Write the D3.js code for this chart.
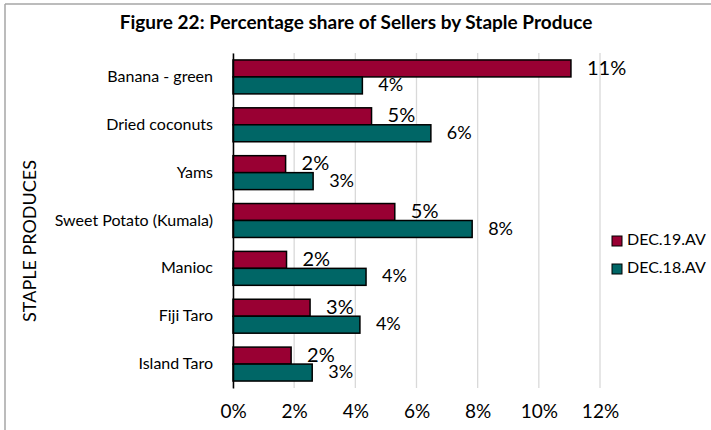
<!DOCTYPE html>
<html lang="en">
<head>
    <meta charset="UTF-8">
    <title>Figure 22</title>
    <script src="https://d3js.org/d3.v7.min.js"></script>
    <style>
        body {
            margin: 0;
            padding: 0;
            background: #fff;
        }
        text {
            font-family: Lato, "Open Sans", sans-serif;
            fill: #000;
        }
    </style>
</head>
<body>
    <div id="chart"></div>

    <script>
        const width = 711, height = 430;

        // 数据
        const categories = ["Banana - green", "Dried coconuts", "Yams", "Sweet Potato (Kumala)", "Manioc", "Fiji Taro", "Island Taro"];
        const seriesNames = ["DEC.19.AV", "DEC.18.AV"];
        const dec19 = [0.1105, 0.0453, 0.0172, 0.0529, 0.0175, 0.0252, 0.0190];
        const dec18 = [0.0423, 0.0647, 0.0262, 0.0782, 0.0435, 0.0415, 0.0259];
        const xTicks = [0, 0.02, 0.04, 0.06, 0.08, 0.10, 0.12];
        const colors = ["#990033", "#006666"];

        const rows = categories.map((c, i) => ({ cat: c, values: [dec19[i], dec18[i]] }));

        const svg = d3.select("#chart")
            .append("svg")
            .attr("width", width)
            .attr("height", height);

        svg.append("rect").attr("width", width).attr("height", height).attr("fill", "#fff");

        // 外框（上、左）
        svg.append("line").attr("x1", 5).attr("x2", width).attr("y1", 4).attr("y2", 4)
            .attr("stroke", "#a6a6a6").attr("stroke-width", 1.5);
        svg.append("line").attr("x1", 5).attr("x2", 5).attr("y1", 4).attr("y2", height)
            .attr("stroke", "#a6a6a6").attr("stroke-width", 1.5);

        const plot = { left: 233, right: 600, top: 53, bottom: 388 };

        const x = d3.scaleLinear().domain([0, 0.12]).range([plot.left, plot.right]);
        const y = d3.scaleBand().domain(categories).range([plot.top, plot.bottom]).padding(0);
        const yInner = d3.scaleBand().domain(seriesNames).range([0, y.bandwidth()])
            .paddingInner(0).paddingOuter(0.41);

        // 标题
        svg.append("text")
            .attr("x", 356).attr("y", 29)
            .attr("text-anchor", "middle")
            .style("font-size", "19px")
            .style("font-weight", "bold")
            .text("Figure 22: Percentage share of Sellers by Staple Produce");

        // 网格线
        svg.append("g")
            .selectAll("line")
            .data(xTicks)
            .join("line")
            .attr("x1", d => x(d)).attr("x2", d => x(d))
            .attr("y1", plot.top).attr("y2", plot.bottom)
            .attr("stroke", "#d9d9d9").attr("stroke-width", 1.3);

        // x轴
        const xAxis = svg.append("g")
            .attr("transform", `translate(0,${plot.bottom})`)
            .call(d3.axisBottom(x).tickValues(xTicks).tickFormat(d3.format(".0%")).tickSize(0).tickPadding(17));
        xAxis.select(".domain").remove();
        xAxis.selectAll("text")
            .style("font-family", "Lato, sans-serif")
            .style("font-size", "19px")
            .attr("fill", "#000");

        // 柱子
        const groups = svg.append("g")
            .selectAll("g")
            .data(rows)
            .join("g")
            .attr("transform", d => `translate(0,${y(d.cat)})`);

        groups.selectAll("rect")
            .data(d => d.values.map((v, i) => ({ name: seriesNames[i], value: v, i: i })))
            .join("rect")
            .attr("x", x(0))
            .attr("y", d => yInner(d.name))
            .attr("width", d => x(d.value) - x(0))
            .attr("height", yInner.bandwidth())
            .attr("fill", d => colors[d.i])
            .attr("stroke", "#000")
            .attr("stroke-width", 1.5);

        // 数据标签
        groups.selectAll("text.val")
            .data(d => d.values.map((v, i) => ({ name: seriesNames[i], value: v, i: i })))
            .join("text")
            .attr("class", "val")
            .attr("x", d => x(d.value) + 16)
            .attr("y", d => yInner(d.name) + yInner.bandwidth() / 2 + 1)
            .attr("dominant-baseline", "middle")
            .style("font-size", d => d.i === 0 ? "20px" : "18px")
            .text(d => d3.format(".0%")(d.value));

        // y轴
        const yAxis = svg.append("g")
            .attr("transform", `translate(${plot.left},0)`)
            .call(d3.axisLeft(y).tickSize(0).tickPadding(20));
        yAxis.select(".domain")
            .attr("stroke", "#000").attr("stroke-width", 1.5);
        yAxis.selectAll("text")
            .style("font-family", "Lato, sans-serif")
            .style("font-size", "16px")
            .attr("fill", "#000");

        // y轴标题
        svg.append("text")
            .attr("transform", "translate(36,241) rotate(-90)")
            .attr("text-anchor", "middle")
            .style("font-size", "18px")
            .text("STAPLE PRODUCES");

        // 图例
        const legend = svg.append("g")
            .selectAll("g")
            .data(seriesNames)
            .join("g")
            .attr("transform", (d, i) => `translate(612,${236 + i * 28})`);
        legend.append("rect")
            .attr("width", 10).attr("height", 10)
            .attr("fill", (d, i) => colors[i])
            .attr("stroke", "#000").attr("stroke-width", 1);
        legend.append("text")
            .attr("x", 15).attr("y", 5)
            .attr("dominant-baseline", "middle")
            .style("font-size", "16px")
            .text(d => d);
    </script>
</body>
</html>
